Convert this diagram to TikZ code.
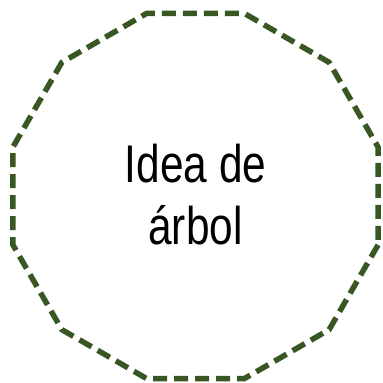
\documentclass[tikz,border=0pt]{standalone}
\usepackage{fontspec}
\setmainfont[FakeStretch=0.8]{Liberation Sans}
\definecolor{leaf}{HTML}{385723}
\tikzset{outline/.style={draw=leaf, line width=5.5pt, dash pattern=on 14pt off 7pt, line join=miter},
  label/.style={align=center, font=\fontsize{53}{62}\selectfont, text=black}}
\begin{document}
\begin{tikzpicture}[x=1pt,y=-1pt]
\useasboundingbox (0,0) rectangle (383,383);
\coordinate (c) at (195.5,196);
\draw[outline] ([shift={(15:189)}]c) \foreach \a in {45,75,...,345} { -- ([shift={(\a:189)}]c) } -- cycle;
\node[label] (t) at (195.5,195) {Idea de\\árbol};
\end{tikzpicture}
\end{document}
